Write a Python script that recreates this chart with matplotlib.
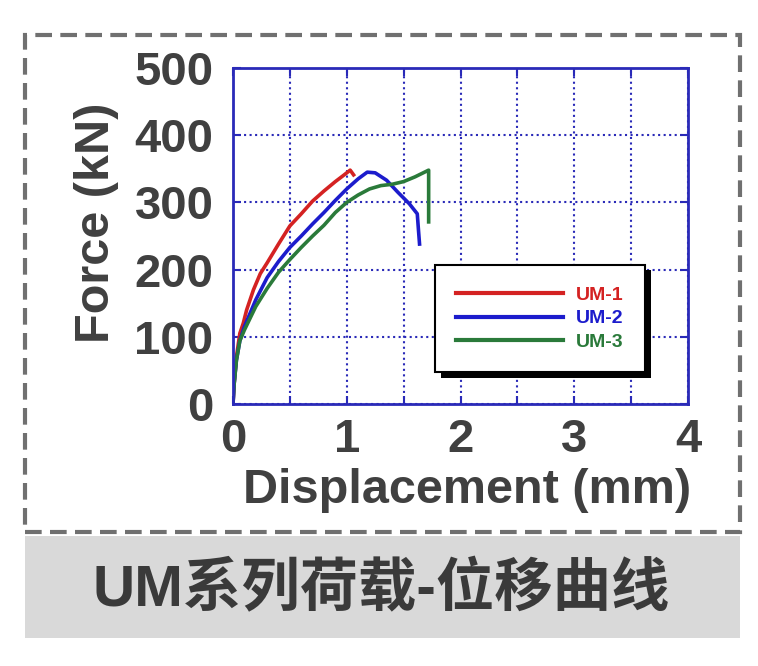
import matplotlib.pyplot as plt
import matplotlib.patches as patches
import matplotlib.patheffects as pe
from matplotlib.ticker import MultipleLocator

# data
um1_disp = [0, 0.01, 0.03, 0.06, 0.09, 0.12, 0.18, 0.24, 0.3, 0.4, 0.5, 0.6, 0.7, 0.8, 0.9, 0.97, 1.03, 1.06]
um1_force = [0, 30, 70, 105, 120, 140, 170, 194, 210, 238, 265, 283, 302, 317, 331, 340, 348, 341]

um2_disp = [0, 0.01, 0.03, 0.06, 0.1, 0.2, 0.3, 0.4, 0.5, 0.6, 0.7, 0.8, 0.9, 1.0, 1.1, 1.18, 1.25, 1.35, 1.45, 1.55, 1.62, 1.63, 1.64]
um2_force = [0, 30, 65, 94, 115, 155, 188, 212, 233, 250, 268, 285, 303, 320, 335, 345, 344, 333, 315, 298, 283, 260, 238]

um3_disp = [0, 0.01, 0.03, 0.06, 0.1, 0.2, 0.3, 0.4, 0.5, 0.6, 0.7, 0.8, 0.9, 1.0, 1.1, 1.2, 1.3, 1.4, 1.5, 1.6, 1.72, 1.72, 1.72]
um3_force = [0, 30, 65, 94, 110, 145, 172, 196, 215, 233, 250, 266, 285, 300, 311, 320, 325, 327, 331, 338, 348, 300, 271]

labels = ['UM-1', 'UM-2', 'UM-3']
colors = ['#d42222', '#1c1ccc', '#2a7a3a']
x_label = 'Displacement (mm)'
y_label = 'Force (kN)'
title = 'UM系列荷载-位移曲线'

text_col = '#404040'
blue = '#2a2ab8'
plt.rcParams['font.family'] = ['Liberation Sans', 'Noto Sans CJK SC', 'DejaVu Sans']
plt.rcParams['font.weight'] = 'bold'

W, H = 758, 666
fig = plt.figure(figsize=(W / 100, H / 100), dpi=100)

# pixel coords -> figure fraction
def fx(px):
    return px / W

def fy(py):
    return 1 - py / H

# grey caption band and dashed frame
fig.patches.append(patches.Rectangle((fx(25), fy(638)), fx(740) - fx(25), fy(536) - fy(638),
                                     transform=fig.transFigure, facecolor='#d9d9d9', edgecolor='none'))
fig.patches.append(patches.Rectangle((fx(25), fy(532)), fx(740) - fx(25), fy(35) - fy(532),
                                     transform=fig.transFigure, facecolor='none', edgecolor='#707070',
                                     linewidth=3, linestyle=(0, (4, 2))))
fig.text(fx(381), fy(590), title, ha='center', va='center', fontsize=42,
         color='#3a3a3a', fontweight='bold')

ax = fig.add_axes([fx(233), fy(404), fx(688) - fx(233), fy(68) - fy(404)])

for d, f, lab, c in zip([um1_disp, um2_disp, um3_disp], [um1_force, um2_force, um3_force], labels, colors):
    ax.plot(d, f, color=c, linewidth=2.6, label=lab)

ax.set_xlim(0, 4)
ax.set_ylim(0, 500)
ax.xaxis.set_major_locator(MultipleLocator(1))
ax.xaxis.set_minor_locator(MultipleLocator(0.5))
ax.yaxis.set_major_locator(MultipleLocator(100))
ax.grid(which='both', color=blue, linestyle=':', linewidth=1.5)
ax.set_axisbelow(True)
for s in ax.spines.values():
    s.set_color(blue)
    s.set_linewidth(2)
ax.tick_params(which='both', direction='in', top=True, right=True, color=blue, width=1.5, length=6)
ax.tick_params(which='major', labelsize=34, labelcolor=text_col)
ax.tick_params(axis='y', pad=14)
ax.tick_params(axis='x', pad=10)

ax.set_xlabel(x_label, fontsize=35, color=text_col, fontweight='bold')
ax.set_ylabel(y_label, fontsize=35, color=text_col, fontweight='bold')
ax.xaxis.set_label_coords(0.515, -0.19)
ax.yaxis.set_label_coords(-0.25, 0.54)

leg = ax.legend(loc='upper left', bbox_to_anchor=(0.444, 0.414), borderaxespad=0,
                fontsize=14, handlelength=5.5, handletextpad=0.65, labelspacing=0.3,
                borderpad=1.1, fancybox=False, framealpha=1, edgecolor='black')
leg.get_frame().set_linewidth(1.5)
leg.get_frame().set_path_effects([pe.withSimplePatchShadow(offset=(4, -4), shadow_rgbFace='black', alpha=1)])
for line in leg.get_lines():
    line.set_linewidth(3)
for t, c in zip(leg.get_texts(), colors):
    t.set_color(c)
    t.set_fontweight('bold')

fig.savefig('out.png', dpi=100)
